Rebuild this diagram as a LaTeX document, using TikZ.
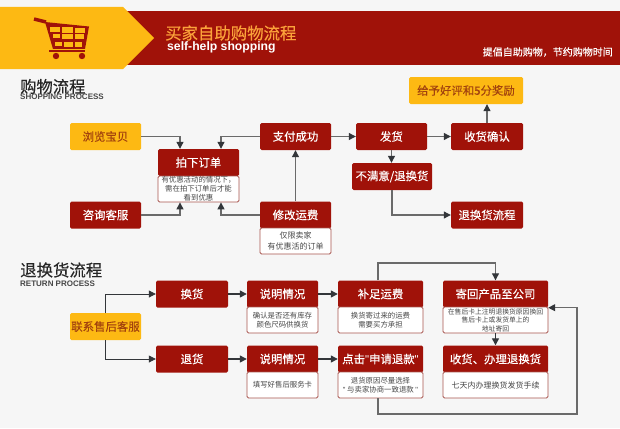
\documentclass[tikz,border=0pt]{standalone}
\usepackage{fontspec}
\setmainfont{Noto Sans CJK SC}
\newfontfamily\medfont[FakeBold=0.35]{Noto Sans CJK SC}
\newfontfamily\latinfont{Liberation Sans}
\usetikzlibrary{positioning,arrows.meta,calc}
\definecolor{cbg}{HTML}{F6F6F6}
\definecolor{cred}{HTML}{A01209}
\definecolor{cyel}{HTML}{FDB913}
\definecolor{ctitle}{HTML}{FBA23A}
\definecolor{cbrown}{HTML}{A2420E}
\definecolor{cline}{HTML}{6A6A6A}
\definecolor{ctip}{HTML}{33363A}
\definecolor{cedge}{HTML}{A8554F}
\begin{document}
\begin{tikzpicture}[x=1pt,y=-1pt,
  redbox/.style={fill=cred,rounded corners=1.5pt,text=white,font=\medfont\fontsize{11.4}{14}\selectfont,
    inner sep=0pt,minimum height=27pt},
  yelbox/.style={fill=cyel,rounded corners=1.5pt,text=cbrown,font=\medfont\fontsize{11.4}{14}\selectfont,
    inner sep=0pt,minimum height=27pt},
  subbox/.style={draw=cedge,fill=white,rounded corners=1.5pt,thick,text=black!72,align=center,
    font=\fontsize{7.4}{9}\selectfont,inner sep=0pt,minimum height=26pt},
  conn/.style={cline,line width=1.1pt,-{Triangle[length=7pt,width=7pt,color=ctip]}},
  thinconn/.style={ctip,line width=.8pt,-{Triangle[length=7pt,width=7pt,color=ctip]}},
  nextconn/.style={ctip,line width=1.3pt,-{Triangle[length=7pt,width=7pt,color=ctip]}}]

\useasboundingbox (0,0) rectangle (620,428);
\fill[cbg] (0,0) rectangle (620,428);

% --- header band ---
\fill[cred] (120,11) rectangle (620,65);
\fill[cyel] (0,7)--(123,7)--(154,38)--(123,69)--(0,69)--cycle;
\node[text=ctitle,font=\medfont\fontsize{16.4}{18}\selectfont,anchor=west,inner sep=0pt] (title) at (165,33) {买家自助购物流程};
\node[text=white,font=\latinfont\fontsize{12.2}{14}\selectfont\bfseries,anchor=west,inner sep=0pt] (titleen) at (167,47) {self-help shopping};
\node[text=white,font=\medfont\fontsize{10}{12}\selectfont,anchor=east,inner sep=0pt] (slogan) at (613,52) {提倡自助购物，节约购物时间};

% --- cart ---
\draw[cred,line width=3.4pt] (34,19)--(46,22);
\fill[cred] (45,22)--(89,26.5)--(85,49)--(53,49)--cycle;
\draw[cred,line width=2pt] (49,51)--(85,51);
\foreach \a/\b/\c/\d in {50/27/60/32,62/27.5/73/33,75/28/85/33,
  53/34/60/38,62/34/73/39,75/34.5/84/39,
  55/42/62/46,64/42/73/47,75/42/82/47}{
  \fill[cyel] (\a,\b) rectangle (\c,\d);
}
\fill[cred] (56,56) circle (3.2);
\fill[cred] (82,56) circle (3.2);

% --- headings ---
\node[text=black!85,font=\medfont\fontsize{16.3}{18}\selectfont,anchor=west,inner sep=0pt] (shophead) at (20,86.5) {购物流程};
\node[text=black!72,font=\latinfont\fontsize{8}{9}\selectfont\bfseries,anchor=west,inner sep=0pt] (shopen) at (20,97) {SHOPPING PROCESS};
\node[text=black!85,font=\medfont\fontsize{16.4}{18}\selectfont,anchor=west,inner sep=0pt] (rethead) at (20,270) {退换货流程};
\node[text=black!72,font=\latinfont\fontsize{8}{9}\selectfont\bfseries,anchor=west,inner sep=0pt] (reten) at (20,284) {RETURN PROCESS};

% --- shopping process ---
\node[yelbox,minimum width=71pt] (browse) at (105.5,136.5) {浏览宝贝};
\node[redbox,minimum width=71pt] (consult) at (105.5,215) {咨询客服};
\node[redbox,minimum width=81pt] (order) at (198.5,162.5) {拍下订单};
\node[subbox,minimum width=81pt] (ordernote) at (198.5,189) {有优惠活动的情况下，\\需在拍下订单后才能\\看到优惠};
\node[redbox,minimum width=71pt] (paid) at (295.5,136.5) {支付成功};
\node[redbox,minimum width=71pt] (fee) at (295.5,215) {修改运费};
\node[subbox,minimum width=71pt,font=\fontsize{8}{11}\selectfont] (feenote) at (295.5,241) {仅限卖家\\有优惠活的订单};
\node[redbox,minimum width=71pt] (ship) at (391.5,136.5) {发货};
\node[redbox,minimum width=72pt] (confirm) at (487,136.5) {收货确认};
\node[yelbox,minimum width=114pt] (reward) at (466,90.5) {给予好评和5分奖励};
\node[redbox,minimum width=80pt] (unhappy) at (392,176.5) {不满意/退换货};
\node[redbox,minimum width=72pt] (retflow) at (487,215) {退换货流程};

\draw[conn] (browse.east) -| ([xshift=-18.5pt]order.north);
\draw[conn] (paid.west) -| ([xshift=22.5pt]order.north);
\draw[conn] (consult.east) -| ([xshift=-18.5pt]ordernote.south);
\draw[conn] (fee.west) -| ([xshift=22.5pt]ordernote.south);
\draw[conn] (fee.north) -- (paid.south);
\draw[conn] (paid.east) -- (ship.west);
\draw[conn] (ship.east) -- (confirm.west);
\draw[conn] (confirm.north) -- (confirm.north |- reward.south);
\draw[conn] (ship.south) -- (ship.south |- unhappy.north);
\draw[conn] (unhappy.south) |- (retflow.west);

% --- return process ---
\node[yelbox,minimum width=71pt] (contact) at (105.5,326.5) {联系售后客服};
\node[redbox,minimum width=72pt] (swap) at (192,294) {换货};
\node[redbox,minimum width=72pt] (refund) at (192,359) {退货};
\node[redbox,minimum width=71pt] (tellA) at (282.5,294) {说明情况};
\node[subbox,minimum width=71pt] (tellAnote) at (282.5,320) {确认是否还有库存\\颜色尺码供换货};
\node[redbox,minimum width=71pt] (tellB) at (282.5,359) {说明情况};
\node[subbox,minimum width=71pt] (tellBnote) at (282.5,385) {填写好售后服务卡};
\node[redbox,minimum width=85pt] (extra) at (380.5,294) {补足运费};
\node[subbox,minimum width=85pt] (extranote) at (380.5,320) {换货寄过来的运费\\需要买方承担};
\node[redbox,minimum width=85pt] (apply) at (380.5,359) {点击{\latinfont "}申请退款{\latinfont "}};
\node[subbox,minimum width=85pt] (applynote) at (380.5,385) {退货原因尽量选择\\{\latinfont "} 与卖家协商一致退款 {\latinfont "}};
\node[redbox,minimum width=105pt] (send) at (495.5,294) {寄回产品至公司};
\node[subbox,minimum width=105pt,font=\fontsize{6.8}{8.5}\selectfont] (sendnote) at (495.5,320) {在售后卡上注明退换货原因换回\\售后卡上或发货单上的\\地址寄回};
\node[redbox,minimum width=105pt] (handle) at (495.5,359) {收货、办理退换货};
\node[subbox,minimum width=105pt,font=\fontsize{8}{10}\selectfont] (handlenote) at (495.5,385) {七天内办理换货发货手续};
\coordinate (loopa) at (378,263);
\coordinate (loopb) at (378,414);
\coordinate (loopc) at (577,414);

\draw[thinconn] (contact.north) |- (swap.west);
\draw[thinconn] (contact.south) |- (refund.west);
\draw[nextconn] (swap.east) -- (tellA.west);
\draw[nextconn] (refund.east) -- (tellB.west);
\draw[nextconn] (tellA.east) -- (extra.west);
\draw[nextconn] (tellB.east) -- (apply.west);
\draw[conn] (loopa |- extra.north) -- (loopa) -| (send.north);
\draw[nextconn] (sendnote.south) -- (handle.north);
\draw[conn] (loopb |- applynote.south) -- (loopb) -- (loopc) |- (send.south east);
\end{tikzpicture}
\end{document}
